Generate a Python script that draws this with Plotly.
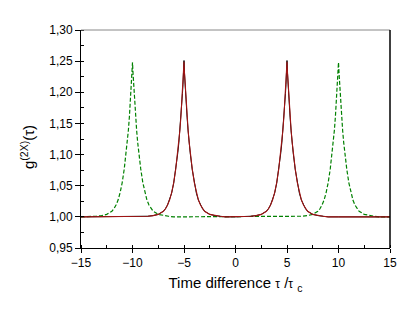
import plotly.graph_objects as go

# ---- data ----
# peak profile: distance from peak centre (in tau/tau_c) and g2 value
profile_offset = [0.0, 0.05, 0.1, 0.15, 0.2, 0.3, 0.4, 0.5, 0.6, 0.8, 1.0, 1.2,
                  1.4, 1.6, 1.8, 2.0, 2.5, 3.0, 3.5, 4.0, 5.0]
black_profile = [1.251, 1.230, 1.212, 1.198, 1.185, 1.160, 1.138, 1.119, 1.103,
                 1.076, 1.054, 1.038, 1.027, 1.019, 1.013, 1.009, 1.004, 1.002,
                 1.001, 1.000, 1.000]
red_profile = [1.249, 1.231, 1.215, 1.201, 1.187, 1.161, 1.139, 1.120, 1.104,
               1.077, 1.055, 1.039, 1.027, 1.019, 1.013, 1.009, 1.004, 1.002,
               1.001, 1.000, 1.000]
green_profile = [1.248, 1.231, 1.215, 1.201, 1.187, 1.161, 1.139, 1.120, 1.104,
                 1.077, 1.055, 1.039, 1.027, 1.019, 1.013, 1.009, 1.004, 1.002,
                 1.001, 1.000, 1.000]
black_centres = [-5, 5]
red_centres = [-5, 5]
green_centres = [-10, 10]
baseline = 1.0
x_min, x_max = -15, 15

y_ticks = [0.95, 1.00, 1.05, 1.10, 1.15, 1.20, 1.25, 1.30]
x_ticks = [-15, -10, -5, 0, 5, 10, 15]


def build(centres, profile):
    pts = {x_min: baseline, x_max: baseline}
    for c in centres:
        for d, v in zip(profile_offset, profile):
            for xx in (c - d, c + d):
                if x_min <= xx <= x_max:
                    pts[round(xx, 4)] = max(v, pts.get(round(xx, 4), baseline))
    xs = sorted(pts)
    return xs, [pts[x] for x in xs]


fig = go.Figure()
bx, by = build(black_centres, black_profile)
rx, ry = build(red_centres, red_profile)
gx, gy = build(green_centres, green_profile)

fig.add_trace(go.Scatter(x=gx, y=gy, mode="lines",
                         line=dict(color="#008000", width=1.2, dash="4px,2px"),
                         showlegend=False))
fig.add_trace(go.Scatter(x=bx, y=by, mode="lines",
                         line=dict(color="#000000", width=1),
                         showlegend=False))
fig.add_trace(go.Scatter(x=rx, y=ry, mode="lines",
                         line=dict(color="#a01414", width=1.1),
                         showlegend=False))

font = "Liberation Sans, Arial, sans-serif"
fig.update_layout(
    width=414, height=311,
    margin=dict(l=81, r=24, t=30, b=63),
    paper_bgcolor="white", plot_bgcolor="white",
    separators=",.",
    font=dict(family=font, color="black", size=12),
    xaxis=dict(
        range=[x_min, x_max], tickvals=x_ticks, ticks="outside", ticklen=4,
        tickwidth=1, tickcolor="black", showline=True, linecolor="black",
        linewidth=1, showgrid=False, zeroline=False, automargin=False,
        tickfont=dict(size=12),
        minor=dict(dtick=2.5, ticks="inside", ticklen=3, tickcolor="black"),
        title=dict(text="Time difference <span style='font-size:12px'>τ</span> /<span style='font-size:12px'>τ</span> <sub>c</sub>",
                   font=dict(size=15), standoff=8),
    ),
    yaxis=dict(
        range=[0.95, 1.30], tickvals=y_ticks, tickformat=".2f", ticks="outside",
        ticklen=5, tickwidth=1, tickcolor="black", showline=True,
        linecolor="black", linewidth=1, showgrid=False, zeroline=False,
        automargin=False,
        tickfont=dict(size=12),
        minor=dict(dtick=0.025, ticks="inside", ticklen=3, tickcolor="black"),
    ),
    annotations=[
        dict(text="g<sup>(2X)</sup>(τ)", xref="paper", yref="paper",
             x=-54 / 309, y=101 / 218, xanchor="center", yanchor="middle",
             textangle=-90, showarrow=False, font=dict(size=15)),
    ],
    shapes=[
        dict(type="line", xref="paper", yref="paper", x0=0, x1=1, y0=1, y1=1,
             line=dict(color="#888888", width=1)),
        dict(type="line", xref="paper", yref="paper", x0=1, x1=1, y0=0, y1=1,
             line=dict(color="black", width=1.5)),
    ],
)

fig.write_html("out.html", config={"displayModeBar": False},
               post_script="document.body.style.margin='0';document.body.style.overflow='hidden';")
